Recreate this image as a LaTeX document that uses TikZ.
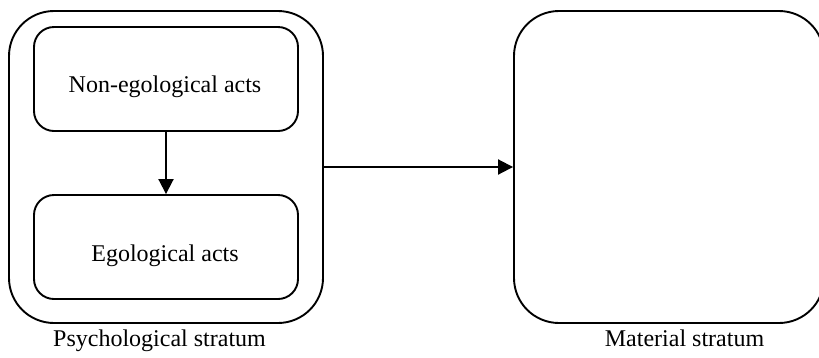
\documentclass[tikz,border=0pt]{standalone}
\usepackage{fontspec}
\setmainfont{Liberation Serif}
\usetikzlibrary{arrows.meta}
\begin{document}
\begin{tikzpicture}[x=1pt,y=-1pt,
  box/.style={draw, line width=1.9pt, rounded corners=#1, inner sep=0pt},
  lbl/.style={anchor=base, inner sep=0pt, font=\fontsize{24}{28}\selectfont},
  arr/.style={line width=1.9pt, -{Triangle[length=15pt,width=15pt]}}]
\useasboundingbox (0,0) rectangle (819,357);
\node[box=45pt, minimum width=314pt, minimum height=312pt] (psy) at (166,167) {};
\node[box=20pt, minimum width=264pt, minimum height=104pt] (nonego) at (166,79) {};
\node[box=20pt, minimum width=264pt, minimum height=104pt] (ego) at (166,247) {};
\node[box=45pt, minimum width=310pt, minimum height=312pt] (mat) at (669,167) {};
\node[lbl] (tnonego) at (165,92.7) {Non-egological acts};
\node[lbl] (tego) at (165,261.7) {Egological acts};
\node[lbl] (tpsy) at (159.5,346) {Psychological stratum};
\node[lbl] (tmat) at (684.5,346) {Material stratum};
\draw[arr] (nonego.south) -- (ego.north);
\draw[arr] (psy.east) -- (mat.west);
\end{tikzpicture}
\end{document}
